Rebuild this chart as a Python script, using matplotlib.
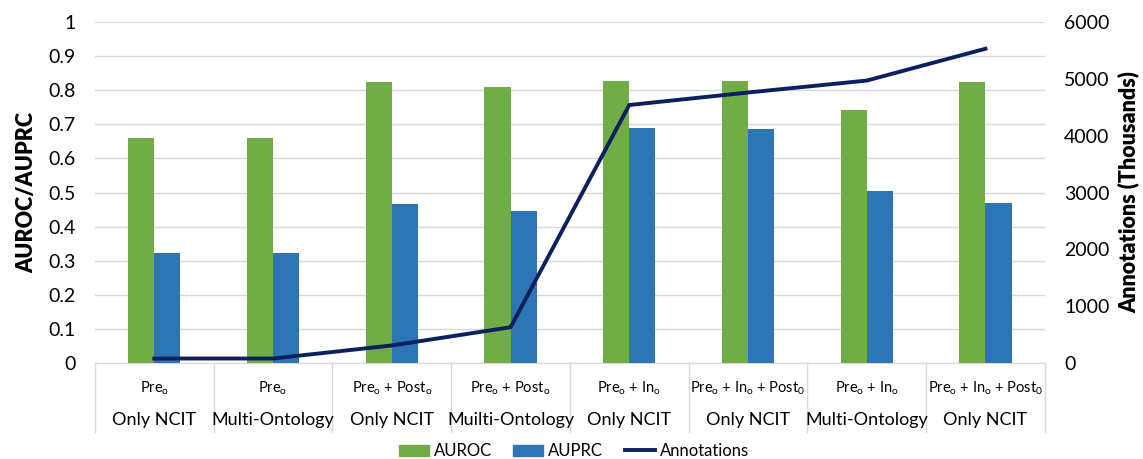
import numpy as np
import matplotlib.pyplot as plt
from matplotlib.lines import Line2D
from matplotlib.patches import Patch
import matplotlib.transforms as mtransforms

plt.rcParams['font.family'] = ['Lato', 'DejaVu Sans']

methods = [r'Pre$_\mathregular{o}$', r'Pre$_\mathregular{o}$',
           r'Pre$_\mathregular{o}$ + Post$_\mathregular{o}$',
           r'Pre$_\mathregular{o}$ + Post$_\mathregular{o}$',
           r'Pre$_\mathregular{o}$ + In$_\mathregular{o}$',
           r'Pre$_\mathregular{o}$ + In$_\mathregular{o}$ + Post$_\mathregular{0}$',
           r'Pre$_\mathregular{o}$ + In$_\mathregular{o}$',
           r'Pre$_\mathregular{o}$ + In$_\mathregular{o}$ + Post$_\mathregular{0}$']
ontologies = ['Only NCIT', 'Multi-Ontology', 'Only NCIT', 'Muilti-Ontology',
              'Only NCIT', 'Only NCIT', 'Multi-Ontology', 'Only NCIT']
auroc = [0.66, 0.66, 0.823, 0.81, 0.827, 0.826, 0.743, 0.824]
auprc = [0.322, 0.322, 0.465, 0.445, 0.69, 0.685, 0.505, 0.47]
annotations = [80, 80, 310, 630, 4540, 4760, 4970, 5530]

green = '#70AD47'
blue = '#2E75B6'
navy = '#0C1F5E'
grid_c = '#D9D9D9'

fig = plt.figure(figsize=(11.43, 4.59), dpi=100)
ax = fig.add_axes([0.0831, 0.209, 0.831, 0.743])
ax2 = ax.twinx()

x = np.arange(len(methods))
w = 0.22
ax.bar(x - w / 2, auroc, w, color=green, zorder=3)
ax.bar(x + w / 2, auprc, w, color=blue, zorder=3)
ax2.plot(x, annotations, color=navy, lw=2.8, zorder=4)

ax.set_xlim(-0.5, len(methods) - 0.5)
ax.set_ylim(0, 1)
ax.set_yticks(np.arange(0, 1.01, 0.1))
ax.set_yticklabels(['0'] + ['%.1f' % v for v in np.arange(0.1, 0.95, 0.1)] + ['1'])
ax2.set_ylim(0, 6000)
ax2.set_yticks(np.arange(0, 6001, 1000))
ax.yaxis.grid(True, color=grid_c, lw=1, zorder=0)
ax.set_xticks([])

for a in (ax, ax2):
    for s in ['top', 'left', 'right']:
        a.spines[s].set_visible(False)
    a.spines['bottom'].set_color(grid_c)
    a.tick_params(axis='y', length=0, labelsize=14, pad=14)
ax2.spines['bottom'].set_visible(False)

ax.set_ylabel('AUROC/AUPRC', fontsize=15.5, fontweight='heavy', labelpad=8)
ax2.set_ylabel('Annotations (Thousands)', fontsize=15.5, fontweight='heavy',
               labelpad=6)

# category table below the axis
trans = mtransforms.blended_transform_factory(ax.transData, ax.transAxes)
for b in np.arange(-0.5, len(methods), 1.0):
    ax.add_line(Line2D([b, b], [0, -0.202], transform=trans, color=grid_c,
                       lw=1, clip_on=False))
for i in range(len(methods)):
    ax.text(i, -0.075, methods[i], transform=trans, ha='center', va='center',
            fontsize=10.5)
    ax.text(i, -0.167, ontologies[i], transform=trans, ha='center', va='center',
            fontsize=13)

handles = [Patch(color=green, label='AUROC'), Patch(color=blue, label='AUPRC'),
           Line2D([0], [0], color=navy, lw=2.8, label='Annotations')]
fig.legend(handles=handles, loc='center', bbox_to_anchor=(0.502, 0.017),
           ncol=3, frameon=False, fontsize=12, handlelength=1.8,
           handleheight=0.7, columnspacing=1.3, handletextpad=0.3)

fig.savefig('out.png', dpi=100)
